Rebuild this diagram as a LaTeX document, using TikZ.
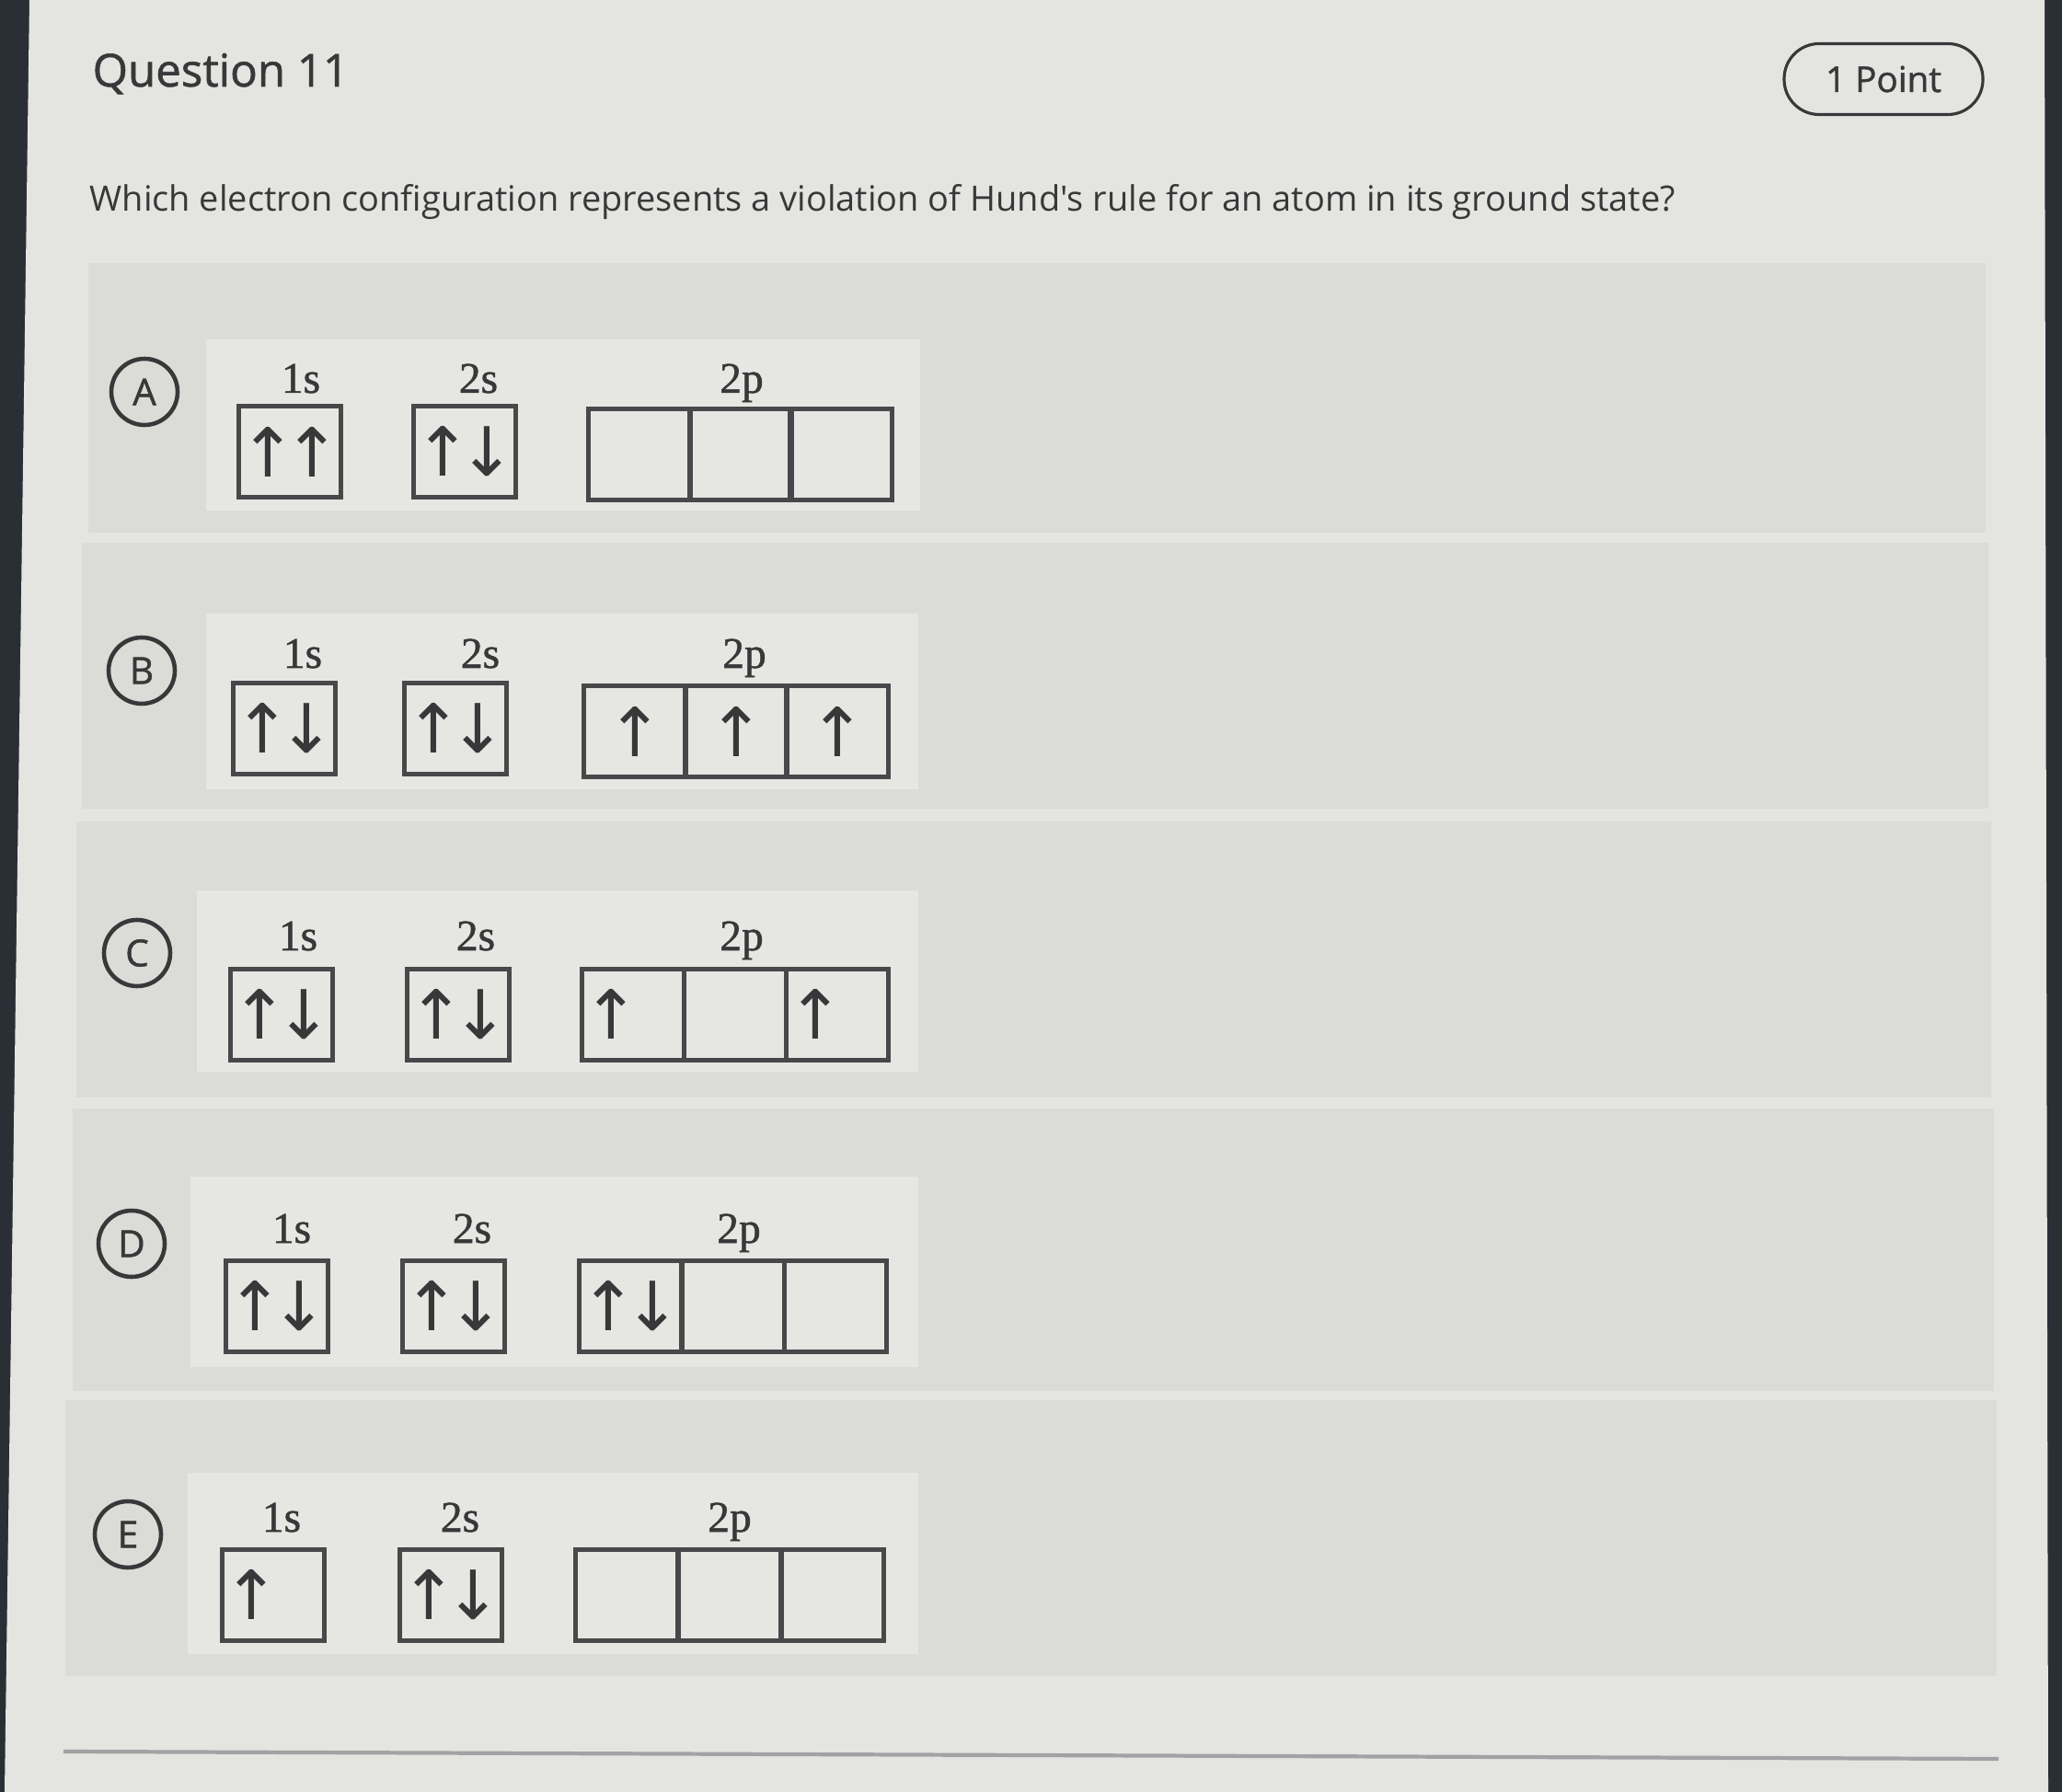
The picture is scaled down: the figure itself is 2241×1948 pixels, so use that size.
\documentclass[tikz,border=0pt]{standalone}
\usepackage{fontspec}
\setmainfont{Open Sans}
\newfontfamily\promptfont{Open Sans}
\newfontfamily\letterfont[FakeBold=1.2]{Open Sans}
\newfontfamily\orbfont[FakeBold=1.1]{Liberation Serif}
\newfontfamily\spinfont{DejaVu Sans}
\newcommand{\upspin}{↑}
\newcommand{\dnspin}{↓}
\newcommand{\pairspin}{↑\kern-4pt↓}
\newcommand{\twoup}{↑\kern-4pt↑}
\newcommand{\lonespin}{↑\kern-4pt\phantom{↓}}
\definecolor{edgedark}{HTML}{2A2E35}
\definecolor{pagegray}{HTML}{E4E4E1}
\definecolor{bandgray}{HTML}{DBDBD8}
\definecolor{panelgray}{HTML}{E6E6E3}
\definecolor{ink}{HTML}{38383A}
\definecolor{boxline}{HTML}{48484B}
\definecolor{rulegray}{HTML}{A2A2A4}
\begin{document}
\begin{tikzpicture}[x=0.1mm,y=-0.1mm,
    orb/.style={draw=boxline,line width=1.2pt,minimum width=11.1mm,minimum height=9.9mm,
      inner sep=0pt,text=ink,font=\spinfont\fontsize{21}{21}\selectfont},
    lvl/.style={anchor=base,inner sep=0pt,text=ink,font=\orbfont\fontsize{13.5}{14}\selectfont},
    choice/.style={circle,draw=ink,line width=1.3pt,minimum size=7.2mm,inner sep=0pt,
      text=ink,font=\letterfont\fontsize{11.5}{12}\selectfont}]
  \useasboundingbox (0,0) rectangle (2241,1948);
  % screen and page
  \fill[edgedark] (0,0) rectangle (2241,1948);
  \fill[pagegray] (32,0) -- (2222,0) -- (2226,1948) -- (5,1948) -- cycle;
  % answer bands
  \fill[bandgray] (96,286) rectangle (2158,579);
  \fill[bandgray] (89,590) rectangle (2161,879);
  \fill[bandgray] (83,893) rectangle (2164,1193);
  \fill[bandgray] (79,1205) rectangle (2167,1512);
  \fill[bandgray] (71,1522) rectangle (2170,1822);
  \fill[panelgray] (224,369) rectangle (1000,555);
  \fill[panelgray] (224,667) rectangle (998,858);
  \fill[panelgray] (214,968) rectangle (998,1165);
  \fill[panelgray] (207,1279) rectangle (998,1486);
  \fill[panelgray] (204,1601) rectangle (998,1798);
  % header
  \node[anchor=base west,inner sep=0pt,text=ink,font=\letterfont\fontsize{14}{16}\selectfont]
    (title) at (100,94) {Question 11};
  \node[draw=ink,line width=0.9pt,rounded corners=3.8mm,minimum width=21.6mm,
    minimum height=7.7mm,text=ink,font=\letterfont\fontsize{11}{12}\selectfont]
    (points) at (2047,86) {1 Point};
  \node[anchor=base west,inner sep=0pt,text=ink,font=\promptfont\fontsize{10.8}{12}\selectfont]
    (prompt) at (97,230) {Which electron configuration represents a violation of Hund's rule for an atom in its ground state?};
  % choice A
  \node[choice] (ca) at (157,426) {A};
  \node[lvl] (a1sl) at (327,427) {1s};
  \node[lvl] (a2sl) at (520,427) {2s};
  \node[lvl] (a2pl) at (806,427) {2p};
  \node[orb] (a1s) at (315,491) {\twoup};
  \node[orb] (a2s) at (505,491) {\pairspin};
  \node[orb] (a2px) at (695,494) {};
  \node[orb] (a2py) at (805,494) {};
  \node[orb] (a2pz) at (914,494) {};
  % choice B
  \node[choice] (cb) at (154,729) {B};
  \node[lvl] (b1sl) at (329,726) {1s};
  \node[lvl] (b2sl) at (522,726) {2s};
  \node[lvl] (b2pl) at (809,726) {2p};
  \node[orb] (b1s) at (309,792) {\pairspin};
  \node[orb] (b2s) at (495,792) {\pairspin};
  \node[orb] (b2px) at (690,795) {\upspin};
  \node[orb] (b2py) at (800,795) {\upspin};
  \node[orb] (b2pz) at (910,795) {\upspin};
  % choice C
  \node[choice] (cc) at (149,1036) {C};
  \node[lvl] (c1sl) at (324,1033) {1s};
  \node[lvl] (c2sl) at (517,1033) {2s};
  \node[lvl] (c2pl) at (806,1033) {2p};
  \node[orb] (c1s) at (306,1103) {\pairspin};
  \node[orb] (c2s) at (498,1103) {\pairspin};
  \node[orb] (c2px) at (688,1103) {\lonespin};
  \node[orb] (c2py) at (799,1103) {};
  \node[orb] (c2pz) at (910,1103) {\lonespin};
  % choice D
  \node[choice] (cd) at (143,1352) {D};
  \node[lvl] (d1sl) at (317,1351) {1s};
  \node[lvl] (d2sl) at (513,1351) {2s};
  \node[lvl] (d2pl) at (803,1351) {2p};
  \node[orb] (d1s) at (301,1420) {\pairspin};
  \node[orb] (d2s) at (493,1420) {\pairspin};
  \node[orb] (d2px) at (685,1420) {\pairspin};
  \node[orb] (d2py) at (797,1420) {};
  \node[orb] (d2pz) at (908,1420) {};
  % choice E
  \node[choice] (ce) at (139,1668) {E};
  \node[lvl] (e1sl) at (306,1665) {1s};
  \node[lvl] (e2sl) at (500,1665) {2s};
  \node[lvl] (e2pl) at (793,1665) {2p};
  \node[orb] (e1s) at (297,1734) {\lonespin};
  \node[orb] (e2s) at (490,1734) {\pairspin};
  \node[orb] (e2px) at (681,1734) {};
  \node[orb] (e2py) at (793,1734) {};
  \node[orb] (e2pz) at (905,1734) {};
  % footer rule
  \draw[rulegray,line width=1.2pt] (69,1904) -- (2172,1912);
\end{tikzpicture}
\end{document}
